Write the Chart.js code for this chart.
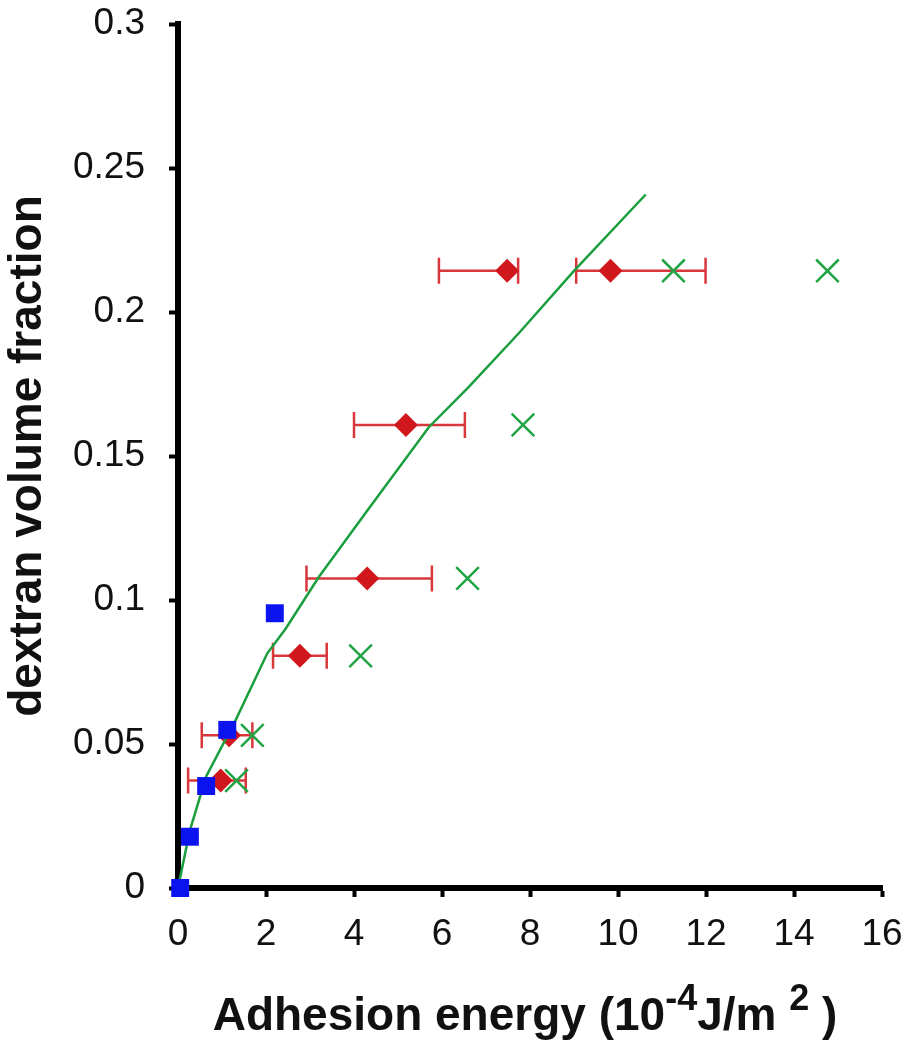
<!DOCTYPE html>
<html>
<head>
<meta charset="utf-8">
<script src="https://cdn.jsdelivr.net/npm/chart.js@4"></script>
<style>
    html, body { margin: 0; padding: 0; background: #fff; }
    #wrap { width: 910px; height: 1050px; position: relative; }
</style>
</head>
<body>
<div id="wrap"><canvas id="chart"></canvas></div>
<script>
const FONT = '"Liberation Sans", Arial, sans-serif';

// blue squares
const squareX = [0.05, 0.27, 0.64, 1.12, 2.2];
const squareY = [0, 0.0178, 0.0354, 0.0549, 0.0954];

// red diamonds with horizontal error bars
const diamondX = [0.97, 1.16, 2.77, 4.30, 5.18, 7.48, 9.83];
const diamondY = [0.0373, 0.053, 0.0806, 0.1075, 0.1608, 0.2143, 0.2143];
const diamondLow  = [0.23, 0.54, 2.16, 2.92, 4.0, 5.93, 9.05];
const diamondHigh = [1.54, 1.69, 3.38, 5.77, 6.52, 7.73, 11.99];

// green crosses
const crossX = [1.33, 1.69, 4.15, 6.58, 7.84, 11.26, 14.76];
const crossY = [0.0373, 0.053, 0.0806, 0.1075, 0.1608, 0.2143, 0.2143];

// green fit curve
const fitX = [0, 0.27, 0.64, 1.31, 2.03, 2.45, 3.2, 4.3, 5.7, 6.61, 7.75, 9.0, 10.63];
const fitY = [0, 0.02, 0.0387, 0.0583, 0.0815, 0.0901, 0.108, 0.131, 0.160, 0.174, 0.1927, 0.2143, 0.2408];

const toPts = (xs, ys) => xs.map((x, i) => ({ x, y: ys[i] }));

const errorBars = {
    id: "errorBars",
    beforeDatasetsDraw(chart) {
        const { ctx, scales: { x, y } } = chart;
        ctx.save();
        ctx.strokeStyle = "#d8383c";
        ctx.lineWidth = 2.5;
        diamondY.forEach((v, i) => {
            const py = y.getPixelForValue(v);
            const x1 = x.getPixelForValue(diamondLow[i]);
            const x2 = x.getPixelForValue(diamondHigh[i]);
            ctx.beginPath();
            ctx.moveTo(x1, py); ctx.lineTo(x2, py);
            ctx.moveTo(x1, py - 13); ctx.lineTo(x1, py + 13);
            ctx.moveTo(x2, py - 13); ctx.lineTo(x2, py + 13);
            ctx.stroke();
        });
        ctx.restore();
    },
};

const axisTitles = {
    id: "axisTitles",
    afterDraw(chart) {
        const { ctx, chartArea } = chart;
        ctx.save();
        ctx.fillStyle = "#111";
        // y title
        ctx.font = `bold 46px ${FONT}`;
        ctx.textAlign = "center";
        ctx.textBaseline = "middle";
        ctx.translate(28, (chartArea.top + chartArea.bottom) / 2);
        ctx.rotate(-Math.PI / 2);
        ctx.fillText("dextran volume fraction", 0, 0);
        ctx.restore();

        // x title with superscripts
        ctx.save();
        ctx.fillStyle = "#111";
        ctx.textBaseline = "alphabetic";
        ctx.textAlign = "left";
        const big = `bold 46px ${FONT}`, small = `bold 36px ${FONT}`;
        const parts = [
            { t: "Adhesion energy (10", f: big, dy: 0 },
            { t: "-4", f: small, dy: -20 },
            { t: "J/m ", f: big, dy: 0 },
            { t: "2", f: small, dy: -20 },
            { t: " )", f: big, dy: 0 },
        ];
        let total = 0;
        parts.forEach(p => { ctx.font = p.f; p.w = ctx.measureText(p.t).width; total += p.w; });
        let px = 525 - total / 2;
        const base = 1030;
        parts.forEach(p => { ctx.font = p.f; ctx.fillText(p.t, px, base + p.dy); px += p.w; });
        ctx.restore();
    },
};

new Chart(document.getElementById("chart"), {
    type: "scatter",
    data: {
        datasets: [
            {
                label: "squares",
                data: toPts(squareX, squareY),
                pointStyle: "rect",
                pointRadius: 12.7,
                backgroundColor: "#0b14ee",
                borderColor: "#0b14ee",
                borderWidth: 0,
                order: 1,
                clip: false,
            },
            {
                label: "fit",
                data: toPts(fitX, fitY),
                showLine: true,
                pointRadius: 0,
                borderColor: "#1a9e3e",
                borderWidth: 2.5,
                tension: 0,
                order: 2,
                clip: false,
            },
            {
                label: "crosses",
                data: toPts(crossX, crossY),
                pointStyle: "crossRot",
                pointRadius: 16,
                borderColor: "#20a444",
                borderWidth: 2.5,
                order: 3,
                clip: false,
            },
            {
                label: "diamonds",
                data: toPts(diamondX, diamondY),
                pointStyle: "rectRot",
                pointRadius: 12,
                backgroundColor: "#d0181c",
                borderColor: "#d0181c",
                borderWidth: 0,
                order: 4,
                clip: false,
            },
        ],
    },
    options: {
        responsive: true,
        maintainAspectRatio: false,
        animation: false,
        layout: { padding: { left: 0, top: 24, right: 28, bottom: 0 } },
        plugins: { legend: { display: false }, tooltip: { enabled: false } },
        scales: {
            x: {
                type: "linear",
                min: 0, max: 16,
                ticks: { stepSize: 2, color: "#111", padding: 16, font: { family: FONT, size: 37 } },
                grid: { drawOnChartArea: false, drawTicks: true, tickLength: 9, tickWidth: 4, tickColor: "#000" },
                border: { color: "#000", width: 6 },
                afterFit: s => {
                    s.height = 1050 - 888;
                    s.paddingLeft = 0; s.paddingRight = 0;
                },
            },
            y: {
                type: "linear",
                min: 0, max: 0.3,
                ticks: {
                    stepSize: 0.05, color: "#111", padding: 24,
                    font: { family: FONT, size: 37 },
                    callback: v => String(+v.toFixed(2)),
                },
                grid: { drawOnChartArea: false, drawTicks: true, tickLength: 9, tickWidth: 4, tickColor: "#000" },
                border: { color: "#000", width: 6 },
                afterFit: s => {
                    s.width = 178;
                    s.paddingTop = 0; s.paddingBottom = 0;
                },
            },
        },
    },
    plugins: [errorBars, axisTitles],
});
</script>
</body>
</html>
